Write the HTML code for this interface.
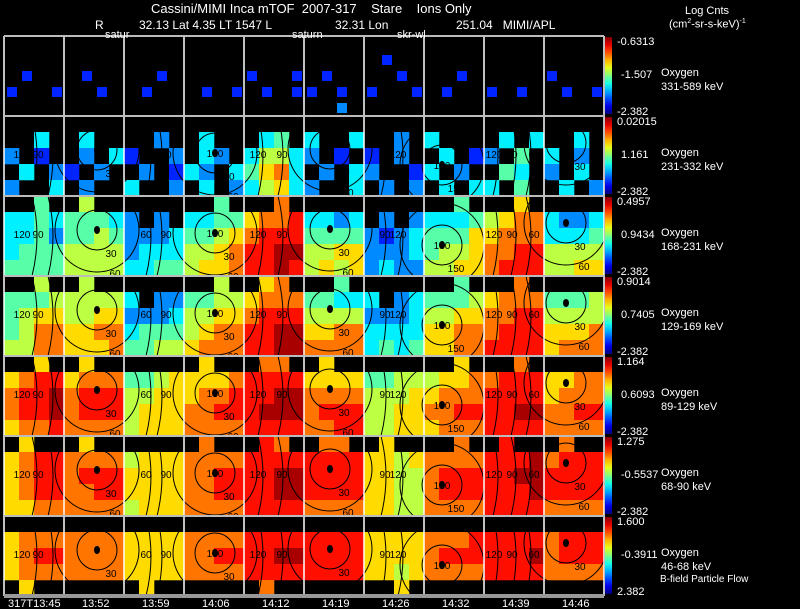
<!DOCTYPE html>
<html><head><meta charset="utf-8">
<style>
html,body{margin:0;padding:0;background:#000;color:#fff;}
#wrap{position:relative;width:800px;height:609px;overflow:hidden;background:#000;font-family:"Liberation Sans",sans-serif;color:#fff;}
svg text{font-family:"Liberation Sans",sans-serif;}
#overlay{position:absolute;left:0;top:0;width:800px;height:40px;pointer-events:none;font-size:12px;color:#fff;font-family:"Liberation Sans",sans-serif;}
#overlay div{color:#fff;}
</style></head>
<body>
<div id="wrap">
<svg id="chart" width="800" height="609" viewBox="0 0 800 609"></svg>
<div id="overlay">
<div style="position:absolute;left:151px;top:1px;white-space:pre;font-size:13px;">Cassini/MIMI Inca mTOF  2007-317    Stare    Ions Only</div>
<div style="position:absolute;left:95px;top:18px;white-space:pre;">R</div>
<div style="position:absolute;left:139px;top:18px;white-space:pre;">32.13 Lat 4.35 LT 1547 L</div>
<div style="position:absolute;left:335px;top:18px;white-space:pre;">32.31 Lon</div>
<div style="position:absolute;left:456px;top:18px;white-space:pre;">251.04   MIMI/APL</div>
<div style="position:absolute;left:105px;top:29px;font-size:11px;">satur</div>
<div style="position:absolute;left:292px;top:29px;font-size:11px;">saturn</div>
<div style="position:absolute;left:397px;top:29px;font-size:11px;">skr-wl</div>
<div style="position:absolute;left:685px;top:5px;font-size:11px;">Log Cnts</div>
<div style="position:absolute;left:669px;top:18px;font-size:11px;">(cm<sup style="font-size:7px">2</sup>-sr-s-keV)<sup style="font-size:7px">-1</sup></div>
</div>
</div>
<script>
const energyRanges = ["331-589 keV","231-332 keV","168-231 keV","129-169 keV","89-129 keV","68-90 keV","46-68 keV"];
const cbTop = ["-0.6313","0.02015","0.4957","0.9014","1.164","1.275","1.600"];
const cbMid = ["-1.507","1.161","0.9434","0.7405","0.6093","-0.5537","-0.3911"];
const cbBot = ["-2.382","-2.382","-2.382","-2.382","-2.382","-2.382","2.382"];
const timeLabels = ["317T13:45","13:52","13:59","14:06","14:12","14:19","14:26","14:32","14:39","14:46"];
// heat values: per row, 5 bands, 40 cells (4 per panel, '|' separates panels); digit 0-9 level, '.' no data
const heatRow1 = ["....|....|....|....|....|....|....|....|....|....","....|....|....|....|....|....|.1..|....|....|....",".1..|.1..|..1.|....|1..1|.1..|..1.|..1.|....|1...","1..1|..1.|.1..|.1.1|.1.1|1.1.|1..1|.1..|1.1.|.1.1","....|....|....|....|....|..2.|....|....|....|...."];
const heatRow2 = ["....|....|....|....|....|....|....|....|....|....","..3.|.3..|..2.|.3..|.34.|3..3|..2.|3...|.3.3|..3.","2.1.|.2.3|1..2|.32.|3553|2.1.|1.2.|.3.1|2.4.|3.2.",".3.2|1.2.|.2.1|32.3|4673|.2.3|2..1|3.2.|.43.|2.3.","2..3|.2..|3..2|.3.2|3563|2..3|.2.2|.3.3|3.4.|.3.2"];
const heatRow3 = ["..4.|.5..|....|..4.|..7.|....|....|..4.|..6.|....","3343|4443|2.2.|3344|6778|3323|.2.2|3334|5677|3223","3342|4454|2223|4456|7888|4444|2123|4446|6777|3334","3444|5555|2333|5567|8899|5566|2223|4556|7788|5555","4444|5555|3344|5667|8898|5656|2322|5566|7888|5566"];
const heatRow4 = ["..5.|.5..|....|..5.|.67.|..4.|....|..4.|..7.|....","4445|5555|3.22|4455|6777|4433|3.23|4445|6777|4445","4566|5566|2223|5566|7888|5555|2223|5566|7788|5555","4577|6677|3444|5677|8899|6677|3333|6677|7888|6667","5577|6667|4455|6777|8899|7777|3434|6677|8888|6777"];
const heatRow5 = ["..6.|.6..|....|.6..|.77.|.6..|....|..6.|..7.|....","6788|6777|4456|6667|8888|6666|4455|5667|7888|6677","7889|7888|5566|6778|8899|7777|5556|6777|8888|6777","7889|7888|5666|7788|8999|7888|5566|7788|8899|7788","6778|7777|5666|7777|8888|7788|5566|6777|8888|7777"];
const heatRow6 = [".6..|.6..|....|.7..|.87.|.77.|.6..|..7.|.8..|.7..","6788|7777|5666|7777|8888|8888|6656|7777|8889|7888","6788|7888|6666|7788|8899|8888|6655|7888|8899|8888","6788|7788|6666|7788|8899|8888|6655|7888|8889|8888","6677|7777|5666|7777|8888|7777|6655|7777|8888|7777"];
const heatRow7 = ["....|....|....|....|....|....|....|....|....|....","6777|7777|6666|7777|8888|8888|6666|7778|8888|7888","6788|7777|6666|7788|8899|8888|6666|7888|8889|7888","6777|7777|6666|7777|8888|8888|6656|7777|8888|7777",".6..|....|.6..|....|.7..|....|..6.|....|....|...."];
const heatRows = [heatRow1,heatRow2,heatRow3,heatRow4,heatRow5,heatRow6,heatRow7];

const NS="http://www.w3.org/2000/svg";
const svg=document.getElementById('chart');
const X0=4, PW=60, NP=10, Y0=36, RH=80, NR=7, CB_X=605;
function mk(tag,attrs,parent){const e=document.createElementNS(NS,tag);for(const k in attrs)e.setAttribute(k,attrs[k]);(parent||svg).appendChild(e);return e;}
function clamp(v){return Math.max(0,Math.min(1,v));}
function jet(t){const r=clamp(1.5-Math.abs(4*t-3)),g=clamp(1.5-Math.abs(4*t-2)),b=clamp(1.5-Math.abs(4*t-1));return `rgb(${Math.round(r*255)},${Math.round(g*255)},${Math.round(b*255)})`;}
function levelColor(d){return jet(0.06+d*0.1);}
function xCell(i,n){return X0+i*(PW*NP/n);}
function yRow(r){return Y0+r*RH;}

heatRows.forEach((bands,r)=>{
  const g=mk('g',{});
  
  
  const bh=RH/bands.length;
  const sparse = r<1;
  bands.forEach((s,b)=>{
    const str=s.replace(/[ |]/g,'');
    const n=40;
    const cw=PW*NP/n;
    for(let i=0;i<n;i++){
      const ch=str[i];
      if(ch===undefined||ch==='.')continue;
      const d=+ch;
      let rc;
      if(sparse){
        rc=mk('rect',{x:xCell(i,n)+3,y:yRow(r)+b*bh+3,width:cw-5,height:bh-6,fill:levelColor(d)},g);
      } else {
        rc=mk('rect',{x:xCell(i,n),y:yRow(r)+b*bh,width:cw+0.3,height:bh+0.3,fill:levelColor(d)},g);
      }
      
      
    }
  });
});

const circleCols=[{cx:97,dy:34,lab:'30',c:'0'},{cx:215,dy:37,lab:'30',c:'180'},{cx:330,dy:33,lab:'30',c:'0'},{cx:442,dy:49,lab:'150',c:'180'},{cx:566,dy:27,lab:'30',c:'0'}];
const defs=mk('defs',{});
for(let r=0;r<NR;r++){
  const cp=mk('clipPath',{id:'clip'+r},defs);
  mk('rect',{x:X0,y:yRow(r),width:PW*NP,height:RH},cp);
  const g=mk('g',{'clip-path':'url(#clip'+r+')'});
  
  
  if(r===0)continue;
  circleCols.forEach(cc=>{
    const cy=yRow(r)+cc.dy;
    mk('circle',{cx:cc.cx,cy:cy,r:20,fill:'none',stroke:'#000','stroke-width':1},g);
    mk('circle',{cx:cc.cx,cy:cy,r:42,fill:'none',stroke:'#000','stroke-width':1},g);
    mk('ellipse',{cx:cc.cx,cy:cy,rx:3,ry:4,fill:'#000'},g);
    if(cc.c!=='0'){const t=mk('text',{x:cc.cx,y:cy+4,'font-size':10,'text-anchor':'middle',fill:'#000'},g);t.textContent=cc.c;}
    const t2=mk('text',{x:cc.cx+14,y:cy+27,'font-size':10,'text-anchor':'middle',fill:'#000'},g);t2.textContent=cc.lab;
    const t3=mk('text',{x:cc.cx+18,y:cy+47,'font-size':10,'text-anchor':'middle',fill:'#000'},g);t3.textContent='60';
  });
  [[36,'120',22],[52,'90',38],[150,'60',146],[161,'90',166],[262,'120',258],[282,'90',282],[385,'90',385],[402,'120',398],[497,'120',494],[515,'90',512],[530,'60',534]].forEach(([x,l,lx])=>{
    mk('path',{d:`M${x-4},${yRow(r)} Q${x+6},${yRow(r)+40} ${x-4},${yRow(r)+80}`,fill:'none',stroke:'#000','stroke-width':1},g);
    const t=mk('text',{x:lx,y:yRow(r)+42,'font-size':10,'text-anchor':'middle',fill:'#000'},g);t.textContent=l;
  });
}

for(let c=0;c<=NP;c++){
  const l=mk('line',{x1:X0+c*PW,x2:X0+c*PW,y1:Y0,y2:Y0+NR*RH,stroke:'#fff','stroke-width':1.5});
  
  
}
for(let r=0;r<=NR;r++){
  const l=mk('line',{x1:X0,x2:X0+PW*NP,y1:yRow(r),y2:yRow(r),stroke:r===NR?'#999':'#bbb','stroke-width':r===NR?4:2});
  
  
}

const grad=mk('linearGradient',{id:'jetg',x1:0,y1:1,x2:0,y2:0},defs);
for(let i=0;i<=10;i++)mk('stop',{offset:i/10,'stop-color':jet(i/10)},grad);
for(let r=0;r<NR;r++){
  const y=yRow(r);
  const cb=mk('rect',{x:CB_X,y:y+1,width:7,height:RH-3,fill:'url(#jetg)'});
  
  
  const a=mk('text',{x:617,y:y+9,'font-size':11,fill:'#fff'});a.textContent=cbTop[r];
  
  const b=mk('text',{x:621,y:y+42,'font-size':11,fill:'#fff'});b.textContent=cbMid[r];
  
  const c=mk('text',{x:617,y:y+79,'font-size':11,fill:'#fff'});c.textContent=cbBot[r];
  
  const s=mk('text',{x:661,y:y+40,'font-size':11,fill:'#fff'});s.textContent='Oxygen';
  
  const e=mk('text',{x:661,y:y+54,'font-size':11,fill:'#fff'});e.textContent=energyRanges[r];
  
}
const bf=mk('text',{x:660,y:582,'font-size':10,fill:'#fff'});bf.textContent='B-field Particle Flow';


timeLabels.forEach((t,i)=>{
  const x=i===0?8:X0+i*PW+18;
  const el=mk('text',{x:x,y:607,'font-size':11,fill:'#fff'});el.textContent=t;
  
  
});
</script>
</body></html>
